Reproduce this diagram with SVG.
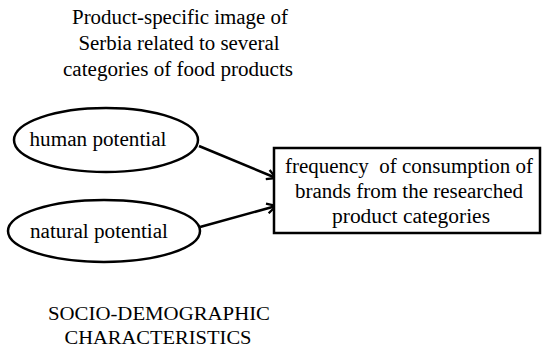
<svg xmlns="http://www.w3.org/2000/svg" width="545" height="348" viewBox="0 0 545 348">
<style>
text{fill:#000;text-anchor:middle}
.t{font-size:20px}
.b{font-size:18px}
.n{fill:#fff;stroke:#000;stroke-width:2.5}
.c{stroke:#000;stroke-width:2.5;fill:none}
</style>
<defs>
<marker id="ah" viewBox="0 0 12 12" refX="10" refY="6" markerWidth="12" markerHeight="12" markerUnits="userSpaceOnUse" orient="auto">
<path d="M1,1 L10,6 L1,11" fill="none" stroke="#000" stroke-width="2.3"/>
</marker>
</defs>
<rect width="545" height="348" fill="#fff"/>
<g id="title" font-family="Liberation Serif">
<text class="t" x="180" y="24" textLength="216" lengthAdjust="spacingAndGlyphs">Product-specific image of</text>
<text class="t" x="179" y="50" textLength="201" lengthAdjust="spacingAndGlyphs">Serbia related to several</text>
<text class="t" x="178" y="76" textLength="230" lengthAdjust="spacingAndGlyphs">categories of food products</text>
</g>
<g id="connectors">
<line class="c" x1="199" y1="146" x2="276" y2="178" marker-end="url(#ah)"/>
<line class="c" x1="200" y1="227" x2="276" y2="206" marker-end="url(#ah)"/>
</g>
<g id="human" font-family="Liberation Serif">
<ellipse class="n" cx="106" cy="140" rx="92" ry="32"/>
<text class="t" x="98" y="146" textLength="137" lengthAdjust="spacingAndGlyphs">human potential</text>
</g>
<g id="natural" font-family="Liberation Serif">
<ellipse class="n" cx="104" cy="231" rx="96" ry="31"/>
<text class="t" x="99" y="238" textLength="138" lengthAdjust="spacingAndGlyphs">natural potential</text>
</g>
<g id="frequency" font-family="Liberation Serif">
<rect class="n" x="274" y="148" width="266" height="85"/>
<text class="t" x="409" y="173" textLength="248" lengthAdjust="spacingAndGlyphs" xml:space="preserve">frequency  of consumption of</text>
<text class="t" x="409" y="198" textLength="228" lengthAdjust="spacingAndGlyphs">brands from the researched</text>
<text class="t" x="411" y="223" textLength="158" lengthAdjust="spacingAndGlyphs">product categories</text>
</g>
<g id="socio" font-family="Liberation Serif">
<text class="b" x="159" y="320" textLength="222" lengthAdjust="spacingAndGlyphs">SOCIO-DEMOGRAPHIC</text>
<text class="b" x="158" y="344" textLength="187" lengthAdjust="spacingAndGlyphs">CHARACTERISTICS</text>
</g>
</svg>
